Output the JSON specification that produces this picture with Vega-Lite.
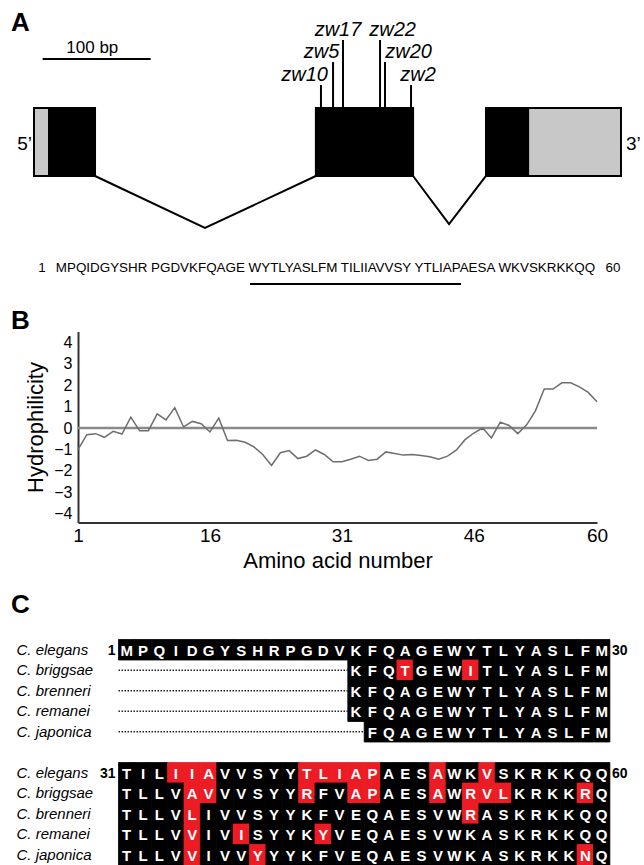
{
  "$schema": "https://vega.github.io/schema/vega-lite/v6.json",
  "background": "white",
  "padding": {"left": 11, "top": 9.5, "right": 0, "bottom": 0},
  "config": {"view": {"stroke": null}, "font": "Liberation Sans"},
  "columns": 1,
  "spacing": 20,
  "resolve": {"scale": {"fill": "independent", "color": "independent", "stroke": "independent"}},
  "datasets": {
    "hydro": [
      {"aa":1,"h":-1.0},{"aa":2,"h":-0.31},{"aa":3,"h":-0.26},{"aa":4,"h":-0.43},{"aa":5,"h":-0.15},
      {"aa":6,"h":-0.28},{"aa":7,"h":0.51},{"aa":8,"h":-0.12},{"aa":9,"h":-0.12},{"aa":10,"h":0.66},
      {"aa":11,"h":0.38},{"aa":12,"h":0.95},{"aa":13,"h":0.05},{"aa":14,"h":0.31},{"aa":15,"h":0.2},
      {"aa":16,"h":-0.18},{"aa":17,"h":0.46},{"aa":18,"h":-0.58},{"aa":19,"h":-0.57},{"aa":20,"h":-0.66},
      {"aa":21,"h":-0.88},{"aa":22,"h":-1.23},{"aa":23,"h":-1.74},{"aa":24,"h":-1.15},{"aa":25,"h":-1.05},
      {"aa":26,"h":-1.42},{"aa":27,"h":-1.31},{"aa":28,"h":-1.02},{"aa":29,"h":-1.23},{"aa":30,"h":-1.57},
      {"aa":31,"h":-1.57},{"aa":32,"h":-1.45},{"aa":33,"h":-1.31},{"aa":34,"h":-1.51},{"aa":35,"h":-1.45},
      {"aa":36,"h":-1.11},{"aa":37,"h":-1.18},{"aa":38,"h":-1.26},{"aa":39,"h":-1.23},{"aa":40,"h":-1.28},
      {"aa":41,"h":-1.34},{"aa":42,"h":-1.45},{"aa":43,"h":-1.31},{"aa":44,"h":-1.03},{"aa":45,"h":-0.54},
      {"aa":46,"h":-0.23},{"aa":47,"h":0.0},{"aa":48,"h":-0.46},{"aa":49,"h":0.28},{"aa":50,"h":0.12},
      {"aa":51,"h":-0.26},{"aa":52,"h":0.15},{"aa":53,"h":0.8},{"aa":54,"h":1.82},{"aa":55,"h":1.82},
      {"aa":56,"h":2.11},{"aa":57,"h":2.11},{"aa":58,"h":1.92},{"aa":59,"h":1.66},{"aa":60,"h":1.23}
    ],
    "cells": [
      {"l":"C. elegans|1","c":1,"a":"M","h":0},{"l":"C. elegans|1","c":2,"a":"P","h":0},{"l":"C. elegans|1","c":3,"a":"Q","h":0},{"l":"C. elegans|1","c":4,"a":"I","h":0},{"l":"C. elegans|1","c":5,"a":"D","h":0},{"l":"C. elegans|1","c":6,"a":"G","h":0},{"l":"C. elegans|1","c":7,"a":"Y","h":0},{"l":"C. elegans|1","c":8,"a":"S","h":0},{"l":"C. elegans|1","c":9,"a":"H","h":0},{"l":"C. elegans|1","c":10,"a":"R","h":0},
      {"l":"C. elegans|1","c":11,"a":"P","h":0},{"l":"C. elegans|1","c":12,"a":"G","h":0},{"l":"C. elegans|1","c":13,"a":"D","h":0},{"l":"C. elegans|1","c":14,"a":"V","h":0},{"l":"C. elegans|1","c":15,"a":"K","h":0},{"l":"C. elegans|1","c":16,"a":"F","h":0},{"l":"C. elegans|1","c":17,"a":"Q","h":0},{"l":"C. elegans|1","c":18,"a":"A","h":0},{"l":"C. elegans|1","c":19,"a":"G","h":0},{"l":"C. elegans|1","c":20,"a":"E","h":0},
      {"l":"C. elegans|1","c":21,"a":"W","h":0},{"l":"C. elegans|1","c":22,"a":"Y","h":0},{"l":"C. elegans|1","c":23,"a":"T","h":0},{"l":"C. elegans|1","c":24,"a":"L","h":0},{"l":"C. elegans|1","c":25,"a":"Y","h":0},{"l":"C. elegans|1","c":26,"a":"A","h":0},{"l":"C. elegans|1","c":27,"a":"S","h":0},{"l":"C. elegans|1","c":28,"a":"L","h":0},{"l":"C. elegans|1","c":29,"a":"F","h":0},{"l":"C. elegans|1","c":30,"a":"M","h":0},
      {"l":"C. briggsae|1","c":15,"a":"K","h":0},{"l":"C. briggsae|1","c":16,"a":"F","h":0},{"l":"C. briggsae|1","c":17,"a":"Q","h":0},{"l":"C. briggsae|1","c":18,"a":"T","h":1},{"l":"C. briggsae|1","c":19,"a":"G","h":0},{"l":"C. briggsae|1","c":20,"a":"E","h":0},{"l":"C. briggsae|1","c":21,"a":"W","h":0},{"l":"C. briggsae|1","c":22,"a":"I","h":1},{"l":"C. briggsae|1","c":23,"a":"T","h":0},{"l":"C. briggsae|1","c":24,"a":"L","h":0},{"l":"C. briggsae|1","c":25,"a":"Y","h":0},{"l":"C. briggsae|1","c":26,"a":"A","h":0},{"l":"C. briggsae|1","c":27,"a":"S","h":0},{"l":"C. briggsae|1","c":28,"a":"L","h":0},{"l":"C. briggsae|1","c":29,"a":"F","h":0},{"l":"C. briggsae|1","c":30,"a":"M","h":0},
      {"l":"C. brenneri|1","c":15,"a":"K","h":0},{"l":"C. brenneri|1","c":16,"a":"F","h":0},{"l":"C. brenneri|1","c":17,"a":"Q","h":0},{"l":"C. brenneri|1","c":18,"a":"A","h":0},{"l":"C. brenneri|1","c":19,"a":"G","h":0},{"l":"C. brenneri|1","c":20,"a":"E","h":0},{"l":"C. brenneri|1","c":21,"a":"W","h":0},{"l":"C. brenneri|1","c":22,"a":"Y","h":0},{"l":"C. brenneri|1","c":23,"a":"T","h":0},{"l":"C. brenneri|1","c":24,"a":"L","h":0},{"l":"C. brenneri|1","c":25,"a":"Y","h":0},{"l":"C. brenneri|1","c":26,"a":"A","h":0},{"l":"C. brenneri|1","c":27,"a":"S","h":0},{"l":"C. brenneri|1","c":28,"a":"L","h":0},{"l":"C. brenneri|1","c":29,"a":"F","h":0},{"l":"C. brenneri|1","c":30,"a":"M","h":0},
      {"l":"C. remanei|1","c":15,"a":"K","h":0},{"l":"C. remanei|1","c":16,"a":"F","h":0},{"l":"C. remanei|1","c":17,"a":"Q","h":0},{"l":"C. remanei|1","c":18,"a":"A","h":0},{"l":"C. remanei|1","c":19,"a":"G","h":0},{"l":"C. remanei|1","c":20,"a":"E","h":0},{"l":"C. remanei|1","c":21,"a":"W","h":0},{"l":"C. remanei|1","c":22,"a":"Y","h":0},{"l":"C. remanei|1","c":23,"a":"T","h":0},{"l":"C. remanei|1","c":24,"a":"L","h":0},{"l":"C. remanei|1","c":25,"a":"Y","h":0},{"l":"C. remanei|1","c":26,"a":"A","h":0},{"l":"C. remanei|1","c":27,"a":"S","h":0},{"l":"C. remanei|1","c":28,"a":"L","h":0},{"l":"C. remanei|1","c":29,"a":"F","h":0},{"l":"C. remanei|1","c":30,"a":"M","h":0},
      {"l":"C. japonica|1","c":16,"a":"F","h":0},{"l":"C. japonica|1","c":17,"a":"Q","h":0},{"l":"C. japonica|1","c":18,"a":"A","h":0},{"l":"C. japonica|1","c":19,"a":"G","h":0},{"l":"C. japonica|1","c":20,"a":"E","h":0},{"l":"C. japonica|1","c":21,"a":"W","h":0},{"l":"C. japonica|1","c":22,"a":"Y","h":0},{"l":"C. japonica|1","c":23,"a":"T","h":0},{"l":"C. japonica|1","c":24,"a":"L","h":0},{"l":"C. japonica|1","c":25,"a":"Y","h":0},{"l":"C. japonica|1","c":26,"a":"A","h":0},{"l":"C. japonica|1","c":27,"a":"S","h":0},{"l":"C. japonica|1","c":28,"a":"L","h":0},{"l":"C. japonica|1","c":29,"a":"F","h":0},{"l":"C. japonica|1","c":30,"a":"M","h":0},
      {"l":"C. elegans|2","c":1,"a":"T","h":0},{"l":"C. elegans|2","c":2,"a":"I","h":0},{"l":"C. elegans|2","c":3,"a":"L","h":0},{"l":"C. elegans|2","c":4,"a":"I","h":1},{"l":"C. elegans|2","c":5,"a":"I","h":1},{"l":"C. elegans|2","c":6,"a":"A","h":1},{"l":"C. elegans|2","c":7,"a":"V","h":0},{"l":"C. elegans|2","c":8,"a":"V","h":0},{"l":"C. elegans|2","c":9,"a":"S","h":0},{"l":"C. elegans|2","c":10,"a":"Y","h":0},
      {"l":"C. elegans|2","c":11,"a":"Y","h":0},{"l":"C. elegans|2","c":12,"a":"T","h":1},{"l":"C. elegans|2","c":13,"a":"L","h":1},{"l":"C. elegans|2","c":14,"a":"I","h":1},{"l":"C. elegans|2","c":15,"a":"A","h":1},{"l":"C. elegans|2","c":16,"a":"P","h":1},{"l":"C. elegans|2","c":17,"a":"A","h":0},{"l":"C. elegans|2","c":18,"a":"E","h":0},{"l":"C. elegans|2","c":19,"a":"S","h":0},{"l":"C. elegans|2","c":20,"a":"A","h":1},
      {"l":"C. elegans|2","c":21,"a":"W","h":0},{"l":"C. elegans|2","c":22,"a":"K","h":0},{"l":"C. elegans|2","c":23,"a":"V","h":1},{"l":"C. elegans|2","c":24,"a":"S","h":0},{"l":"C. elegans|2","c":25,"a":"K","h":0},{"l":"C. elegans|2","c":26,"a":"R","h":0},{"l":"C. elegans|2","c":27,"a":"K","h":0},{"l":"C. elegans|2","c":28,"a":"K","h":0},{"l":"C. elegans|2","c":29,"a":"Q","h":0},{"l":"C. elegans|2","c":30,"a":"Q","h":0},
      {"l":"C. briggsae|2","c":1,"a":"T","h":0},{"l":"C. briggsae|2","c":2,"a":"L","h":0},{"l":"C. briggsae|2","c":3,"a":"L","h":0},{"l":"C. briggsae|2","c":4,"a":"V","h":0},{"l":"C. briggsae|2","c":5,"a":"A","h":1},{"l":"C. briggsae|2","c":6,"a":"V","h":1},{"l":"C. briggsae|2","c":7,"a":"V","h":0},{"l":"C. briggsae|2","c":8,"a":"V","h":0},{"l":"C. briggsae|2","c":9,"a":"S","h":0},{"l":"C. briggsae|2","c":10,"a":"Y","h":0},
      {"l":"C. briggsae|2","c":11,"a":"Y","h":0},{"l":"C. briggsae|2","c":12,"a":"R","h":1},{"l":"C. briggsae|2","c":13,"a":"F","h":0},{"l":"C. briggsae|2","c":14,"a":"V","h":0},{"l":"C. briggsae|2","c":15,"a":"A","h":1},{"l":"C. briggsae|2","c":16,"a":"P","h":1},{"l":"C. briggsae|2","c":17,"a":"A","h":0},{"l":"C. briggsae|2","c":18,"a":"E","h":0},{"l":"C. briggsae|2","c":19,"a":"S","h":0},{"l":"C. briggsae|2","c":20,"a":"A","h":1},
      {"l":"C. briggsae|2","c":21,"a":"W","h":0},{"l":"C. briggsae|2","c":22,"a":"R","h":1},{"l":"C. briggsae|2","c":23,"a":"V","h":1},{"l":"C. briggsae|2","c":24,"a":"L","h":1},{"l":"C. briggsae|2","c":25,"a":"K","h":0},{"l":"C. briggsae|2","c":26,"a":"R","h":0},{"l":"C. briggsae|2","c":27,"a":"K","h":0},{"l":"C. briggsae|2","c":28,"a":"K","h":0},{"l":"C. briggsae|2","c":29,"a":"R","h":1},{"l":"C. briggsae|2","c":30,"a":"Q","h":0},
      {"l":"C. brenneri|2","c":1,"a":"T","h":0},{"l":"C. brenneri|2","c":2,"a":"L","h":0},{"l":"C. brenneri|2","c":3,"a":"L","h":0},{"l":"C. brenneri|2","c":4,"a":"V","h":0},{"l":"C. brenneri|2","c":5,"a":"L","h":1},{"l":"C. brenneri|2","c":6,"a":"I","h":0},{"l":"C. brenneri|2","c":7,"a":"V","h":0},{"l":"C. brenneri|2","c":8,"a":"V","h":0},{"l":"C. brenneri|2","c":9,"a":"S","h":0},{"l":"C. brenneri|2","c":10,"a":"Y","h":0},
      {"l":"C. brenneri|2","c":11,"a":"Y","h":0},{"l":"C. brenneri|2","c":12,"a":"K","h":0},{"l":"C. brenneri|2","c":13,"a":"F","h":0},{"l":"C. brenneri|2","c":14,"a":"V","h":0},{"l":"C. brenneri|2","c":15,"a":"E","h":0},{"l":"C. brenneri|2","c":16,"a":"Q","h":0},{"l":"C. brenneri|2","c":17,"a":"A","h":0},{"l":"C. brenneri|2","c":18,"a":"E","h":0},{"l":"C. brenneri|2","c":19,"a":"S","h":0},{"l":"C. brenneri|2","c":20,"a":"V","h":0},
      {"l":"C. brenneri|2","c":21,"a":"W","h":0},{"l":"C. brenneri|2","c":22,"a":"R","h":1},{"l":"C. brenneri|2","c":23,"a":"A","h":0},{"l":"C. brenneri|2","c":24,"a":"S","h":0},{"l":"C. brenneri|2","c":25,"a":"K","h":0},{"l":"C. brenneri|2","c":26,"a":"R","h":0},{"l":"C. brenneri|2","c":27,"a":"K","h":0},{"l":"C. brenneri|2","c":28,"a":"K","h":0},{"l":"C. brenneri|2","c":29,"a":"Q","h":0},{"l":"C. brenneri|2","c":30,"a":"Q","h":0},
      {"l":"C. remanei|2","c":1,"a":"T","h":0},{"l":"C. remanei|2","c":2,"a":"L","h":0},{"l":"C. remanei|2","c":3,"a":"L","h":0},{"l":"C. remanei|2","c":4,"a":"V","h":0},{"l":"C. remanei|2","c":5,"a":"V","h":1},{"l":"C. remanei|2","c":6,"a":"I","h":0},{"l":"C. remanei|2","c":7,"a":"V","h":0},{"l":"C. remanei|2","c":8,"a":"I","h":1},{"l":"C. remanei|2","c":9,"a":"S","h":0},{"l":"C. remanei|2","c":10,"a":"Y","h":0},
      {"l":"C. remanei|2","c":11,"a":"Y","h":0},{"l":"C. remanei|2","c":12,"a":"K","h":0},{"l":"C. remanei|2","c":13,"a":"Y","h":1},{"l":"C. remanei|2","c":14,"a":"V","h":0},{"l":"C. remanei|2","c":15,"a":"E","h":0},{"l":"C. remanei|2","c":16,"a":"Q","h":0},{"l":"C. remanei|2","c":17,"a":"A","h":0},{"l":"C. remanei|2","c":18,"a":"E","h":0},{"l":"C. remanei|2","c":19,"a":"S","h":0},{"l":"C. remanei|2","c":20,"a":"V","h":0},
      {"l":"C. remanei|2","c":21,"a":"W","h":0},{"l":"C. remanei|2","c":22,"a":"K","h":0},{"l":"C. remanei|2","c":23,"a":"A","h":0},{"l":"C. remanei|2","c":24,"a":"S","h":0},{"l":"C. remanei|2","c":25,"a":"K","h":0},{"l":"C. remanei|2","c":26,"a":"R","h":0},{"l":"C. remanei|2","c":27,"a":"K","h":0},{"l":"C. remanei|2","c":28,"a":"K","h":0},{"l":"C. remanei|2","c":29,"a":"Q","h":0},{"l":"C. remanei|2","c":30,"a":"Q","h":0},
      {"l":"C. japonica|2","c":1,"a":"T","h":0},{"l":"C. japonica|2","c":2,"a":"L","h":0},{"l":"C. japonica|2","c":3,"a":"L","h":0},{"l":"C. japonica|2","c":4,"a":"V","h":0},{"l":"C. japonica|2","c":5,"a":"V","h":1},{"l":"C. japonica|2","c":6,"a":"I","h":0},{"l":"C. japonica|2","c":7,"a":"V","h":0},{"l":"C. japonica|2","c":8,"a":"V","h":0},{"l":"C. japonica|2","c":9,"a":"Y","h":1},{"l":"C. japonica|2","c":10,"a":"Y","h":0},
      {"l":"C. japonica|2","c":11,"a":"Y","h":0},{"l":"C. japonica|2","c":12,"a":"K","h":0},{"l":"C. japonica|2","c":13,"a":"F","h":0},{"l":"C. japonica|2","c":14,"a":"V","h":0},{"l":"C. japonica|2","c":15,"a":"E","h":0},{"l":"C. japonica|2","c":16,"a":"Q","h":0},{"l":"C. japonica|2","c":17,"a":"A","h":0},{"l":"C. japonica|2","c":18,"a":"E","h":0},{"l":"C. japonica|2","c":19,"a":"S","h":0},{"l":"C. japonica|2","c":20,"a":"V","h":0},
      {"l":"C. japonica|2","c":21,"a":"W","h":0},{"l":"C. japonica|2","c":22,"a":"K","h":0},{"l":"C. japonica|2","c":23,"a":"A","h":0},{"l":"C. japonica|2","c":24,"a":"S","h":0},{"l":"C. japonica|2","c":25,"a":"K","h":0},{"l":"C. japonica|2","c":26,"a":"R","h":0},{"l":"C. japonica|2","c":27,"a":"K","h":0},{"l":"C. japonica|2","c":28,"a":"K","h":0},{"l":"C. japonica|2","c":29,"a":"N","h":1},{"l":"C. japonica|2","c":30,"a":"Q","h":0}
    ]
  },
  "concat": [
    {
      "width": 566,
      "height": 248,
      "title": {"text": "A", "anchor": "start", "frame": "group", "fontSize": 26, "fontWeight": "bold", "font": "Liberation Sans", "color": "black", "offset": -16.5, "dx": -67},
      "layer": [
        {
          "data": {"values": [
            {"exon": 1, "kind": "UTR", "start": 0, "end": 14, "lo": 0, "hi": 1},
            {"exon": 1, "kind": "CDS", "start": 14, "end": 56.5, "lo": 0, "hi": 1},
            {"exon": 2, "kind": "CDS", "start": 261, "end": 351, "lo": 0, "hi": 1},
            {"exon": 3, "kind": "CDS", "start": 418.5, "end": 457.5, "lo": 0, "hi": 1},
            {"exon": 3, "kind": "UTR", "start": 457.5, "end": 543.5, "lo": 0, "hi": 1}
          ]},
          "mark": {"type": "rect", "stroke": "black", "strokeWidth": 2},
          "encoding": {
            "x": {"field": "start", "type": "quantitative", "scale": {"domain": [40.74, 564.81], "nice": false, "zero": false}, "axis": null},
            "x2": {"field": "end"},
            "y": {"field": "lo", "type": "quantitative", "scale": {"domain": [-1.64, 2.007], "nice": false, "zero": false}, "axis": null},
            "y2": {"field": "hi"},
            "fill": {"field": "kind", "type": "nominal", "scale": {"domain": ["UTR", "CDS"], "range": ["#c8c8c8", "#000000"]}, "legend": null}
          }
        },
        {
          "data": {"values": [
            {"intron": 1, "bp": 56.5, "level": 0}, {"intron": 1, "bp": 158.3, "level": -0.765}, {"intron": 1, "bp": 261, "level": 0},
            {"intron": 2, "bp": 351, "level": 0}, {"intron": 2, "bp": 384.3, "level": -0.706}, {"intron": 2, "bp": 418.5, "level": 0}
          ]},
          "mark": {"type": "line", "color": "black", "strokeWidth": 2},
          "encoding": {
            "x": {"field": "bp", "type": "quantitative", "scale": {"domain": [40.74, 564.81], "nice": false, "zero": false}, "axis": null},
            "y": {"field": "level", "type": "quantitative", "scale": {"domain": [-1.64, 2.007], "nice": false, "zero": false}, "axis": null},
            "detail": {"field": "intron", "type": "nominal"}
          }
        },
        {
          "data": {"values": [
            {"allele": "zw10", "pos": 265.7, "base": 1, "top": 1.338},
            {"allele": "zw5", "pos": 276.9, "base": 1, "top": 1.676},
            {"allele": "zw17", "pos": 286.1, "base": 1, "top": 2.0},
            {"allele": "zw22", "pos": 320.4, "base": 1, "top": 2.0},
            {"allele": "zw20", "pos": 325.0, "base": 1, "top": 1.676},
            {"allele": "zw2", "pos": 349.1, "base": 1, "top": 1.338}
          ]},
          "mark": {"type": "rule", "color": "black", "strokeWidth": 2},
          "encoding": {
            "x": {"field": "pos", "type": "quantitative", "scale": {"domain": [40.74, 564.81], "nice": false, "zero": false}, "axis": null},
            "y": {"field": "base", "type": "quantitative", "scale": {"domain": [-1.64, 2.007], "nice": false, "zero": false}, "axis": null},
            "y2": {"field": "top"}
          }
        },
        {
          "data": {"values": [
            {"allele": "zw10", "labelPos": 250.5, "top": 1.338},
            {"allele": "zw5", "labelPos": 266.2, "top": 1.676},
            {"allele": "zw17", "labelPos": 281.5, "top": 2.0},
            {"allele": "zw22", "labelPos": 332.0, "top": 2.0},
            {"allele": "zw20", "labelPos": 346.8, "top": 1.676},
            {"allele": "zw2", "labelPos": 355.6, "top": 1.338}
          ]},
          "mark": {"type": "text", "font": "Liberation Sans", "fontStyle": "italic", "fontSize": 20, "baseline": "alphabetic", "align": "center", "dy": -4, "color": "black"},
          "encoding": {
            "x": {"field": "labelPos", "type": "quantitative", "scale": {"domain": [40.74, 564.81], "nice": false, "zero": false}, "axis": null},
            "y": {"field": "top", "type": "quantitative", "scale": {"domain": [-1.64, 2.007], "nice": false, "zero": false}, "axis": null},
            "text": {"field": "allele", "type": "nominal"}
          }
        },
        {
          "data": {"values": [{"from": 8, "to": 108, "level": 1.72}]},
          "mark": {"type": "rule", "color": "black", "strokeWidth": 2},
          "encoding": {
            "x": {"field": "from", "type": "quantitative", "scale": {"domain": [40.74, 564.81], "nice": false, "zero": false}, "axis": null},
            "x2": {"field": "to"},
            "y": {"field": "level", "type": "quantitative", "scale": {"domain": [-1.64, 2.007], "nice": false, "zero": false}, "axis": null}
          }
        },
        {
          "data": {"values": [{"mid": 54, "level": 1.72, "label": "100 bp"}]},
          "mark": {"type": "text", "font": "Liberation Sans", "fontSize": 17, "baseline": "alphabetic", "align": "center", "dy": -6, "color": "black"},
          "encoding": {
            "x": {"field": "mid", "type": "quantitative", "scale": {"domain": [40.74, 564.81], "nice": false, "zero": false}, "axis": null},
            "y": {"field": "level", "type": "quantitative", "scale": {"domain": [-1.64, 2.007], "nice": false, "zero": false}, "axis": null},
            "text": {"field": "label", "type": "nominal"}
          }
        },
        {
          "data": {"values": [{"end": "5’", "bp": 0, "level": 0.5}]},
          "mark": {"type": "text", "font": "Liberation Sans", "fontSize": 19, "baseline": "middle", "align": "right", "dx": -2, "dy": 2, "color": "black"},
          "encoding": {
            "x": {"field": "bp", "type": "quantitative", "scale": {"domain": [40.74, 564.81], "nice": false, "zero": false}, "axis": null},
            "y": {"field": "level", "type": "quantitative", "scale": {"domain": [-1.64, 2.007], "nice": false, "zero": false}, "axis": null},
            "text": {"field": "end", "type": "nominal"}
          }
        },
        {
          "data": {"values": [{"end": "3’", "bp": 543.5, "level": 0.5}]},
          "mark": {"type": "text", "font": "Liberation Sans", "fontSize": 19, "baseline": "middle", "align": "left", "dx": 5, "dy": 2, "color": "black"},
          "encoding": {
            "x": {"field": "bp", "type": "quantitative", "scale": {"domain": [40.74, 564.81], "nice": false, "zero": false}, "axis": null},
            "y": {"field": "level", "type": "quantitative", "scale": {"domain": [-1.64, 2.007], "nice": false, "zero": false}, "axis": null},
            "text": {"field": "end", "type": "nominal"}
          }
        },
        {
          "data": {"values": [
            {"t": "1", "bp": 7.4, "level": -1.412},
            {"t": "MPQIDGYSHR PGDVKFQAGE WYTLYASLFM TILIIAVVSY YTLIAPAESA WKVSKRKKQQ", "bp": 269.9, "level": -1.412},
            {"t": "60", "bp": 536, "level": -1.412}
          ]},
          "mark": {"type": "text", "font": "Liberation Sans", "fontSize": 13.4, "baseline": "alphabetic", "align": "center", "color": "black"},
          "encoding": {
            "x": {"field": "bp", "type": "quantitative", "scale": {"domain": [40.74, 564.81], "nice": false, "zero": false}, "axis": null},
            "y": {"field": "level", "type": "quantitative", "scale": {"domain": [-1.64, 2.007], "nice": false, "zero": false}, "axis": null},
            "text": {"field": "t", "type": "nominal"}
          }
        },
        {
          "data": {"values": [{"from": 200, "to": 395.4, "level": -1.588}]},
          "mark": {"type": "rule", "color": "black", "strokeWidth": 2},
          "encoding": {
            "x": {"field": "from", "type": "quantitative", "scale": {"domain": [40.74, 564.81], "nice": false, "zero": false}, "axis": null},
            "x2": {"field": "to"},
            "y": {"field": "level", "type": "quantitative", "scale": {"domain": [-1.64, 2.007], "nice": false, "zero": false}, "axis": null}
          }
        }
      ]
    },
    {
      "width": 519,
      "height": 191,
      "title": {"text": "B", "anchor": "start", "frame": "group", "fontSize": 26, "fontWeight": "bold", "font": "Liberation Sans", "color": "black", "offset": -2, "dx": -67},
      "layer": [
        {
          "data": {"values": [{"aa": 1, "h": 0}, {"aa": 60, "h": 0}]},
          "mark": {"type": "line", "color": "#8a8a8a", "strokeWidth": 2.5},
          "encoding": {
            "x": {"field": "aa", "type": "quantitative", "scale": {"domain": [1, 60], "nice": false, "zero": false},
              "axis": {"values": [1, 16, 31, 46, 60], "title": "Amino acid number", "grid": false, "ticks": false, "labelFontSize": 19, "labelPadding": 4, "labelFont": "Liberation Sans", "labelColor": "black", "titleFontSize": 22, "titleFontWeight": "normal", "titleFont": "Liberation Sans", "titleColor": "black", "titlePadding": 5, "domainColor": "#333333", "domainWidth": 2, "labelFlush": false}},
            "y": {"field": "h", "type": "quantitative", "scale": {"domain": [-4.4, 4.5], "nice": false, "zero": false},
              "axis": {"values": [-4, -3, -2, -1, 0, 1, 2, 3, 4], "title": "Hydrophilicity", "grid": false, "ticks": false, "labelFontSize": 16, "labelPadding": 6, "labelFont": "Liberation Sans", "labelColor": "black", "titleFontSize": 22, "titleFontWeight": "normal", "titleFont": "Liberation Sans", "titleColor": "black", "titlePadding": 6, "domainColor": "#333333", "domainWidth": 2}}
          }
        },
        {
          "data": {"name": "hydro"},
          "mark": {"type": "line", "color": "#6e6e6e", "strokeWidth": 1.5},
          "encoding": {
            "x": {"field": "aa", "type": "quantitative", "scale": {"domain": [1, 60], "nice": false, "zero": false},
              "axis": {"values": [1, 16, 31, 46, 60], "title": "Amino acid number", "grid": false, "ticks": false, "labelFontSize": 19, "labelPadding": 4, "labelFont": "Liberation Sans", "labelColor": "black", "titleFontSize": 22, "titleFontWeight": "normal", "titleFont": "Liberation Sans", "titleColor": "black", "titlePadding": 5, "domainColor": "#333333", "domainWidth": 2, "labelFlush": false}},
            "y": {"field": "h", "type": "quantitative", "scale": {"domain": [-4.4, 4.5], "nice": false, "zero": false},
              "axis": {"values": [-4, -3, -2, -1, 0, 1, 2, 3, 4], "title": "Hydrophilicity", "grid": false, "ticks": false, "labelFontSize": 16, "labelPadding": 6, "labelFont": "Liberation Sans", "labelColor": "black", "titleFontSize": 22, "titleFontWeight": "normal", "titleFont": "Liberation Sans", "titleColor": "black", "titlePadding": 6, "domainColor": "#333333", "domainWidth": 2}}
          }
        }
      ]
    },
    {
      "width": 566,
      "height": 225.5,
      "title": {"text": "C", "anchor": "start", "frame": "group", "fontSize": 26, "fontWeight": "bold", "font": "Liberation Sans", "color": "black", "offset": 21, "dx": -67},
      "layer": [
        {
          "data": {"name": "cells"},
          "mark": {"type": "rect", "xOffset": -8.19, "x2Offset": 8.19, "strokeWidth": 0.8},
          "encoding": {
            "x": {"field": "c", "type": "quantitative", "scale": {"domain": [-1.972, 32.583], "nice": false, "zero": false}, "axis": null},
            "x2": {"field": "c"},
            "y": {"field": "l", "type": "ordinal", "scale": {"domain": ["C. elegans|1","C. briggsae|1","C. brenneri|1","C. remanei|1","C. japonica|1","|gap","C. elegans|2","C. briggsae|2","C. brenneri|2","C. remanei|2","C. japonica|2"], "paddingInner": 0, "paddingOuter": 0},
              "axis": {"title": null, "domain": false, "ticks": false, "labelAlign": "left", "labelBaseline": "middle", "labelPadding": 62, "labelFontSize": 15, "labelFontStyle": "italic", "labelFont": "Liberation Sans", "labelColor": "black", "labelExpr": "split(datum.value, '|')[0]"}},
            "fill": {"field": "h", "type": "nominal", "scale": {"domain": [0, 1], "range": ["#000000", "#ed1c24"]}, "legend": null},
            "stroke": {"field": "h", "type": "nominal", "scale": {"domain": [0, 1], "range": ["#000000", "#ed1c24"]}, "legend": null}
          }
        },
        {
          "data": {"name": "cells"},
          "mark": {"type": "text", "color": "white", "font": "Liberation Sans", "fontWeight": "bold", "fontSize": 15, "baseline": "middle", "dy": 1},
          "encoding": {
            "x": {"field": "c", "type": "quantitative", "scale": {"domain": [-1.972, 32.583], "nice": false, "zero": false}, "axis": null},
            "y": {"field": "l", "type": "ordinal", "scale": {"domain": ["C. elegans|1","C. briggsae|1","C. brenneri|1","C. remanei|1","C. japonica|1","|gap","C. elegans|2","C. briggsae|2","C. brenneri|2","C. remanei|2","C. japonica|2"], "paddingInner": 0, "paddingOuter": 0},
              "axis": {"title": null, "domain": false, "ticks": false, "labelAlign": "left", "labelBaseline": "middle", "labelPadding": 62, "labelFontSize": 15, "labelFontStyle": "italic", "labelFont": "Liberation Sans", "labelColor": "black", "labelExpr": "split(datum.value, '|')[0]"}},
            "text": {"field": "a", "type": "nominal"}
          }
        },
        {
          "data": {"values": [
            {"l": "C. briggsae|1", "from": 0.5, "to": 14.5},
            {"l": "C. brenneri|1", "from": 0.5, "to": 14.5},
            {"l": "C. remanei|1", "from": 0.5, "to": 14.5},
            {"l": "C. japonica|1", "from": 0.5, "to": 15.5}
          ]},
          "mark": {"type": "rule", "color": "#222222", "strokeWidth": 1.5, "strokeDash": [1.5, 1.5]},
          "encoding": {
            "x": {"field": "from", "type": "quantitative", "scale": {"domain": [-1.972, 32.583], "nice": false, "zero": false}, "axis": null},
            "x2": {"field": "to"},
            "y": {"field": "l", "type": "ordinal", "scale": {"domain": ["C. elegans|1","C. briggsae|1","C. brenneri|1","C. remanei|1","C. japonica|1","|gap","C. elegans|2","C. briggsae|2","C. brenneri|2","C. remanei|2","C. japonica|2"], "paddingInner": 0, "paddingOuter": 0},
              "axis": {"title": null, "domain": false, "ticks": false, "labelAlign": "left", "labelBaseline": "middle", "labelPadding": 62, "labelFontSize": 15, "labelFontStyle": "italic", "labelFont": "Liberation Sans", "labelColor": "black", "labelExpr": "split(datum.value, '|')[0]"}}
          }
        },
        {
          "data": {"values": [
            {"t": "1", "l": "C. elegans|1", "edge": 0.5},
            {"t": "31", "l": "C. elegans|2", "edge": 0.5}
          ]},
          "mark": {"type": "text", "font": "Liberation Sans", "fontWeight": "bold", "fontSize": 14, "align": "right", "baseline": "middle", "dx": -3, "dy": 1, "color": "black"},
          "encoding": {
            "x": {"field": "edge", "type": "quantitative", "scale": {"domain": [-1.972, 32.583], "nice": false, "zero": false}, "axis": null},
            "y": {"field": "l", "type": "ordinal", "scale": {"domain": ["C. elegans|1","C. briggsae|1","C. brenneri|1","C. remanei|1","C. japonica|1","|gap","C. elegans|2","C. briggsae|2","C. brenneri|2","C. remanei|2","C. japonica|2"], "paddingInner": 0, "paddingOuter": 0},
              "axis": {"title": null, "domain": false, "ticks": false, "labelAlign": "left", "labelBaseline": "middle", "labelPadding": 62, "labelFontSize": 15, "labelFontStyle": "italic", "labelFont": "Liberation Sans", "labelColor": "black", "labelExpr": "split(datum.value, '|')[0]"}},
            "text": {"field": "t", "type": "nominal"}
          }
        },
        {
          "data": {"values": [
            {"t": "30", "l": "C. elegans|1", "edge": 30.5},
            {"t": "60", "l": "C. elegans|2", "edge": 30.5}
          ]},
          "mark": {"type": "text", "font": "Liberation Sans", "fontWeight": "bold", "fontSize": 14, "align": "left", "baseline": "middle", "dx": 2, "dy": 1, "color": "black"},
          "encoding": {
            "x": {"field": "edge", "type": "quantitative", "scale": {"domain": [-1.972, 32.583], "nice": false, "zero": false}, "axis": null},
            "y": {"field": "l", "type": "ordinal", "scale": {"domain": ["C. elegans|1","C. briggsae|1","C. brenneri|1","C. remanei|1","C. japonica|1","|gap","C. elegans|2","C. briggsae|2","C. brenneri|2","C. remanei|2","C. japonica|2"], "paddingInner": 0, "paddingOuter": 0},
              "axis": {"title": null, "domain": false, "ticks": false, "labelAlign": "left", "labelBaseline": "middle", "labelPadding": 62, "labelFontSize": 15, "labelFontStyle": "italic", "labelFont": "Liberation Sans", "labelColor": "black", "labelExpr": "split(datum.value, '|')[0]"}},
            "text": {"field": "t", "type": "nominal"}
          }
        }
      ]
    }
  ]
}
